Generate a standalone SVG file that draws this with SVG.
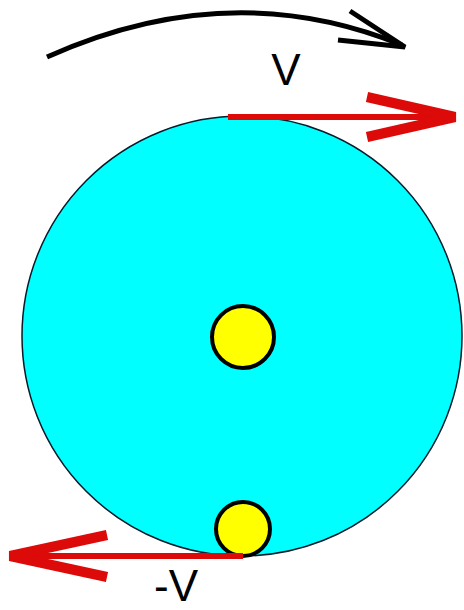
<svg xmlns="http://www.w3.org/2000/svg" width="464" height="610" viewBox="0 0 464 610">
<style>
.red{stroke:#dd0a0a;fill:none;stroke-linecap:butt;stroke-linejoin:miter}
.lbl{font-family:"Liberation Sans",Arial,sans-serif;font-size:44px;fill:#000}
.ball{fill:#ffff00;stroke:#000;stroke-width:4}
</style>
<rect width="464" height="610" fill="#fff"/>
<g id="wheel"><circle cx="242" cy="336" r="220" fill="#00ffff" stroke="#0a1a2a" stroke-width="1.5"/></g>
<g id="axle"><circle cx="243" cy="337" r="31" class="ball"/></g>
<g id="contact"><circle cx="243" cy="529" r="27" class="ball"/></g>
<g id="connectors">
<path d="M47 57 Q230 -25 402 45" stroke="#000" stroke-width="5" fill="none"/>
<path d="M350 11 L405 47 L338 40" stroke="#000" stroke-width="5" fill="none" stroke-linejoin="miter"/>
<line x1="228" y1="117" x2="452" y2="117" class="red" stroke-width="6"/>
<path d="M367 97 L455 117 L367 137" class="red" stroke-width="10"/>
<line x1="243" y1="556" x2="14" y2="556" class="red" stroke-width="6"/>
<path d="M107 535 L10 556 L107 577" class="red" stroke-width="10"/>
</g>
<text class="lbl" x="286" y="85" text-anchor="middle">V</text>
<text class="lbl" x="176" y="601" font-size="40" text-anchor="middle">-V</text>
</svg>
